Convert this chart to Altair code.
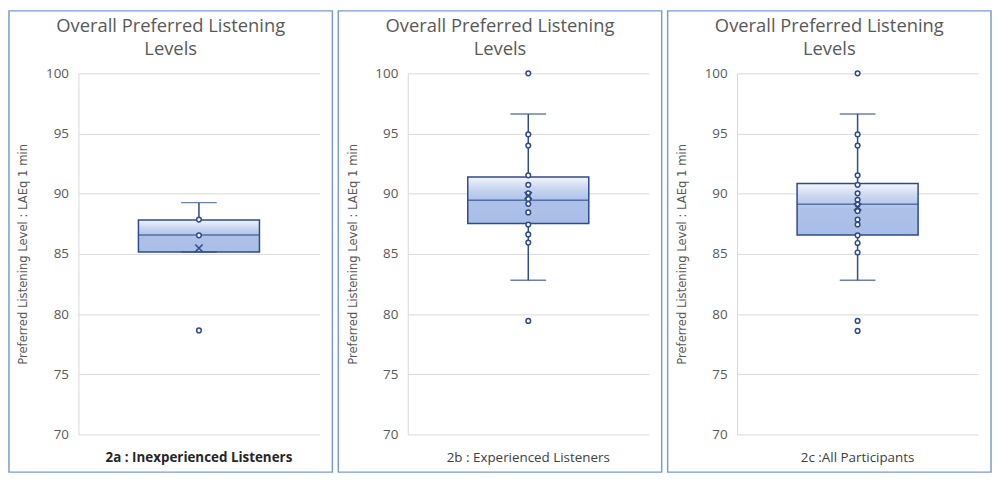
import altair as alt
import pandas as pd

TITLE_LINES = ["Overall Preferred Listening", "Levels"]
Y_TITLE = "Preferred Listening Level : LAEq 1 min"
Y_TICKS = [70, 75, 80, 85, 90, 95, 100]

panel_labels = ["2a : Inexperienced Listeners", "2b : Experienced Listeners", "2c :All Participants"]
label_bold = [True, False, False]

q1 = [85.15, 87.52, 86.57]
q3 = [87.82, 91.39, 90.85]
median = [86.57, 89.46, 89.13]
mean = [85.48, 89.84, 88.90]
whisker_low = [85.15, 82.81, 82.81]
whisker_high = [89.26, 96.62, 96.62]

points = [
    [87.85, 86.54, 78.64],
    [100.0, 94.93, 94.0, 91.53, 90.74, 90.03, 89.57, 89.16, 88.45, 87.44, 86.62, 85.94, 79.43],
    [100.0, 94.93, 94.0, 91.53, 90.74, 90.03, 89.5, 89.1, 88.56, 87.85, 87.44, 86.54, 85.91, 85.12, 79.43, 78.6],
]

W = 243
H = 364
DARK = "#2f4b8a"
GRAY_TXT = "#595959"
FONT = "Open Sans"

gradient = alt.Gradient(
    gradient="linear",
    stops=[
        alt.GradientStop(color="#f3f6fc", offset=0),
        alt.GradientStop(color="#c9d6f0", offset=0.25),
        alt.GradientStop(color="#adc1e8", offset=0.5),
        alt.GradientStop(color="#a9bee7", offset=1),
    ],
    x1=0, x2=0, y1=0, y2=1,
)


def panel(i):
    cat = panel_labels[i]
    stats = pd.DataFrame({
        "cat": [cat], "q1": [q1[i]], "q3": [q3[i]], "median": [median[i]],
        "mean": [mean[i]], "lo": [whisker_low[i]], "hi": [whisker_high[i]],
    })
    pts = pd.DataFrame({"cat": [cat] * len(points[i]), "v": points[i]})

    xenc = alt.X("cat:N", axis=None, scale=alt.Scale(paddingInner=0, paddingOuter=0))
    yscale = alt.Scale(domain=[70, 100], nice=False, zero=False)
    yaxis = alt.Axis(
        values=Y_TICKS, grid=True, gridColor="#d9d9d9", gridWidth=1,
        domain=True, domainColor="#d9d9d9", ticks=False,
        labelColor=GRAY_TXT, labelFontSize=13.5, labelFont=FONT, labelPadding=10,
        title=Y_TITLE, titleColor=GRAY_TXT, titleFontSize=13, titleFontWeight="normal",
        titleFont="Liberation Sans Narrow, DejaVu Sans Condensed, Roboto Condensed, Roboto",
        titleX=-56, titleY=H / 2, titleAngle=-90, titleAlign="center", titleBaseline="middle",
    )

    base = alt.Chart(stats)

    border = base.mark_rect(fillOpacity=0, stroke="#7b9ad6", strokeWidth=1.5).encode(
        x=alt.value(-70), x2=alt.value(W + 13), y=alt.value(-63), y2=alt.value(H + 38)
    )

    whisk_hi = base.mark_rule(color=DARK, strokeWidth=1.5).encode(
        x=xenc, y=alt.Y("q3:Q", scale=yscale, axis=yaxis), y2="hi:Q"
    )
    whisk_lo = base.mark_rule(color=DARK, strokeWidth=1.5).encode(
        x=xenc, y=alt.Y("lo:Q", scale=yscale), y2="q1:Q"
    )
    box = base.mark_bar(size=122, fill=gradient, stroke=DARK, strokeWidth=1.5).encode(
        x=xenc, y=alt.Y("q1:Q", scale=yscale), y2="q3:Q"
    )
    med = base.mark_tick(size=122, thickness=1.5, color=DARK, orient="horizontal").encode(
        x=xenc, y=alt.Y("median:Q", scale=yscale)
    )
    cap_hi = base.mark_tick(size=36, thickness=1.5, color=DARK, orient="horizontal").encode(
        x=xenc, y=alt.Y("hi:Q", scale=yscale)
    )
    cap_lo = base.mark_tick(size=36, thickness=1.5, color=DARK, orient="horizontal").encode(
        x=xenc, y=alt.Y("lo:Q", scale=yscale)
    )
    dots = alt.Chart(pts).mark_point(
        shape="circle", size=22, filled=False, fill="white", stroke=DARK, strokeWidth=1.5, opacity=1
    ).encode(x=xenc, y=alt.Y("v:Q", scale=yscale))
    mean_x = base.mark_point(
        shape="M-1,-1L1,1M1,-1L-1,1", size=55, filled=False, stroke=DARK, strokeWidth=1.6, opacity=1
    ).encode(x=xenc, y=alt.Y("mean:Q", scale=yscale))

    title = base.mark_text(
        text=TITLE_LINES, font=FONT, fontSize=18.5, color=GRAY_TXT, align="center",
        baseline="middle", lineHeight=23.5,
    ).encode(x=alt.value((W - 57) / 2), y=alt.value(-48))

    xlab = base.mark_text(
        font=FONT, fontSize=13.5, color="#262626" if label_bold[i] else "#404040",
        fontWeight="bold" if label_bold[i] else "normal", baseline="middle",
    ).encode(x=xenc, y=alt.value(H + 24), text="cat:N")

    return alt.layer(
        border, whisk_hi, whisk_lo, box, med, cap_hi, cap_lo, dots, mean_x, title, xlab
    ).properties(width=W, height=H)


chart = alt.hconcat(panel(0), panel(1), panel(2), spacing=4).configure(
    padding=0
).configure_view(stroke=None)

chart.save("out.html", embed_options={"renderer": "svg", "actions": False})
